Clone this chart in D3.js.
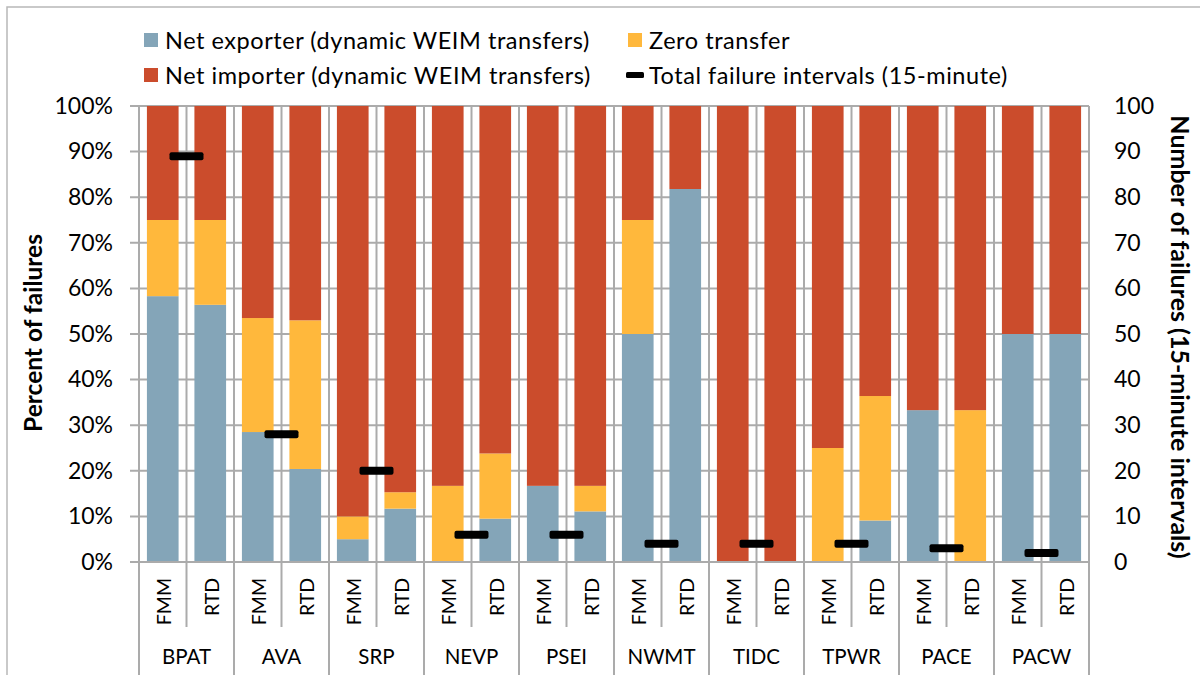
<!DOCTYPE html>
<html>
<head>
<meta charset="utf-8">
<script src="https://cdn.jsdelivr.net/npm/d3@7/dist/d3.min.js"></script>
<style>
  html, body { margin: 0; padding: 0; background: #fff; }
  svg { display: block; font-family: Lato, "Open Sans", sans-serif; }
</style>
</head>
<body>
<svg id="chart" width="1200" height="675"></svg>
<script>
// ---- data ----
const groups = ["BPAT", "AVA", "SRP", "NEVP", "PSEI", "NWMT", "TIDC", "TPWR", "PACE", "PACW"];
const markets = ["FMM", "RTD"];
// percent of failures, listed group by group as FMM, RTD
const netExporter  = [58.3, 56.4, 28.5, 20.4, 5.0, 11.7, 0.0, 9.5, 16.7, 11.1, 50.0, 81.8, 0.0, 0.0, 0.0, 9.1, 33.3, 0.0, 50.0, 50.0];
const zeroTransfer = [16.7, 18.6, 25.0, 32.6, 5.0, 3.6, 16.7, 14.3, 0.0, 5.6, 25.0, 0.0, 0.0, 0.0, 25.0, 27.3, 0.0, 33.3, 0.0, 0.0];
const netImporter  = [25.0, 25.0, 46.5, 47.0, 90.0, 84.7, 83.3, 76.2, 83.3, 83.3, 25.0, 18.2, 100.0, 100.0, 75.0, 63.6, 66.7, 66.7, 50.0, 50.0];
// number of 15-minute failure intervals per group
const totalFailures = [89, 28, 20, 6, 6, 4, 4, 4, 3, 2];
const percentTicks = [0, 10, 20, 30, 40, 50, 60, 70, 80, 90, 100];
const percentTickLabels = ["0%", "10%", "20%", "30%", "40%", "50%", "60%", "70%", "80%", "90%", "100%"];
const countTicks = [0, 10, 20, 30, 40, 50, 60, 70, 80, 90, 100];
const seriesNames = ["Net exporter (dynamic WEIM transfers)", "Zero transfer", "Net importer (dynamic WEIM transfers)"];
const lineName = "Total failure intervals (15-minute)";

// ---- styling ----
const colors = { exporter: "#84a5b8", zero: "#ffb83c", importer: "#cb4c2c" };
const gridColor = "#ababab";

const svg = d3.select("#chart");
const M = { left: 139, right: 1089, top: 106, bottom: 562 };

// outer border
svg.append("rect").attr("x", 7).attr("y", 7).attr("width", 1200).attr("height", 700)
  .attr("fill", "none").attr("stroke", "#b8b8b8").attr("stroke-width", 1.5);

// ---- scales ----
const x0 = d3.scaleBand().domain(groups).range([M.left, M.right]).paddingInner(0).paddingOuter(0);
const x1 = d3.scaleBand().domain(markets).range([0, x0.bandwidth()]).paddingInner(1/3).paddingOuter(1/6);
const x1Full = d3.scaleBand().domain(markets).range([0, x0.bandwidth()]);
const y = d3.scaleLinear().domain([0, 100]).range([M.bottom, M.top]);
const yR = d3.scaleLinear().domain([0, 100]).range([M.bottom, M.top]);

// ---- table ----
const rows = [];
groups.forEach((g, gi) => markets.forEach((m, mi) => {
  const i = gi * 2 + mi;
  rows.push({ group: g, market: m, exporter: netExporter[i], zero: zeroTransfer[i], importer: netImporter[i] });
}));
const stack = d3.stack().keys(["exporter", "zero", "importer"]);
const stacked = stack(rows);

// ---- gridlines ----
const grid = svg.append("g");
grid.selectAll("line.h").data(percentTicks).enter().append("line")
  .attr("x1", M.left - 9).attr("x2", M.right)
  .attr("y1", d => y(d)).attr("y2", d => y(d))
  .attr("stroke", gridColor).attr("stroke-width", 2);
const boundaries = [];
groups.forEach(g => markets.forEach(m => boundaries.push({ x: x0(g) + x1Full(m), major: m === markets[0] })));
boundaries.push({ x: M.right, major: true });
grid.selectAll("line.v").data(boundaries).enter().append("line")
  .attr("x1", d => d.x).attr("x2", d => d.x)
  .attr("y1", M.top).attr("y2", d => d.major ? 680 : 627)
  .attr("stroke", gridColor).attr("stroke-width", 2);

// ---- bars ----
const keyColor = { exporter: colors.exporter, zero: colors.zero, importer: colors.importer };
svg.append("g").selectAll("g").data(stacked).enter().append("g")
  .attr("fill", d => keyColor[d.key])
  .selectAll("rect").data(d => d).enter().append("rect")
  .attr("x", d => x0(d.data.group) + x1(d.data.market))
  .attr("width", x1.bandwidth())
  .attr("y", d => y(d[1]))
  .attr("height", d => Math.max(0, y(d[0]) - y(d[1])));

// ---- line series markers (dash) ----
svg.append("g").selectAll("rect").data(groups).enter().append("rect")
  .attr("x", (g) => x0(g) + x0.bandwidth() / 2 - 17)
  .attr("y", (g, i) => yR(totalFailures[i]) - 4)
  .attr("width", 34).attr("height", 8).attr("rx", 2)
  .attr("fill", "#000");

// ---- axes ----
const axL = svg.append("g").attr("transform", `translate(${M.left},0)`)
  .call(d3.axisLeft(y).tickValues(percentTicks).tickFormat((d, i) => percentTickLabels[i]).tickSize(0).tickPadding(26));
axL.select(".domain").remove();
axL.selectAll("text").attr("font-size", 23).attr("fill", "#000").attr("font-family", "Lato");

const axR = svg.append("g").attr("transform", `translate(${M.right},0)`)
  .call(d3.axisRight(yR).tickValues(countTicks).tickSize(0).tickPadding(25));
axR.select(".domain").remove();
axR.selectAll("text").attr("font-size", 23).attr("fill", "#000").attr("font-family", "Lato");

svg.append("line").attr("x1", M.left).attr("x2", M.right).attr("y1", M.bottom).attr("y2", M.bottom)
  .attr("stroke", gridColor).attr("stroke-width", 2);

// category (market) labels
svg.append("g").selectAll("text").data(rows).enter().append("text")
  .attr("transform", d => `translate(${x0(d.group) + x1Full(d.market) + x1Full.bandwidth() / 2 + 1},578) rotate(-90)`)
  .attr("text-anchor", "end").attr("dominant-baseline", "central")
  .attr("font-size", 19.5).attr("fill", "#000")
  .text(d => d.market);

// group labels
svg.append("g").selectAll("text").data(groups).enter().append("text")
  .attr("x", g => x0(g) + x0.bandwidth() / 2).attr("y", 656)
  .attr("text-anchor", "middle").attr("dominant-baseline", "central")
  .attr("font-size", 20.5).attr("fill", "#000")
  .text(g => g);

// axis titles
svg.append("text").attr("transform", "translate(32,333) rotate(-90)")
  .attr("text-anchor", "middle").attr("dominant-baseline", "central")
  .attr("font-size", 24.5).attr("font-weight", "bold").attr("fill", "#000")
  .text("Percent of failures");
svg.append("text").attr("transform", "translate(1181,337) rotate(90)")
  .attr("text-anchor", "middle").attr("dominant-baseline", "central")
  .attr("font-size", 25).attr("font-weight", "bold").attr("fill", "#000")
  .text("Number of failures (15-minute intervals)");

// ---- legend ----
const legend = svg.append("g");
const legendItems = [
  { name: seriesNames[0], color: colors.exporter, x: 144, y: 40, type: "box" },
  { name: seriesNames[1], color: colors.zero, x: 628, y: 40, type: "box" },
  { name: seriesNames[2], color: colors.importer, x: 144, y: 75, type: "box" },
  { name: lineName, color: "#000", x: 628, y: 75, type: "dash" }
];
legendItems.forEach(it => {
  if (it.type === "box") {
    legend.append("rect").attr("x", it.x).attr("y", it.y - 7).attr("width", 14).attr("height", 14).attr("fill", it.color);
  } else {
    legend.append("rect").attr("x", it.x - 2).attr("y", it.y - 3).attr("width", 18).attr("height", 6).attr("rx", 1.5).attr("fill", it.color);
  }
  legend.append("text").attr("x", it.x + 21).attr("y", it.y)
    .attr("dominant-baseline", "central").attr("font-size", 23.5).attr("letter-spacing", 0.55).attr("fill", "#000")
    .text(it.name);
});
</script>
</body>
</html>
